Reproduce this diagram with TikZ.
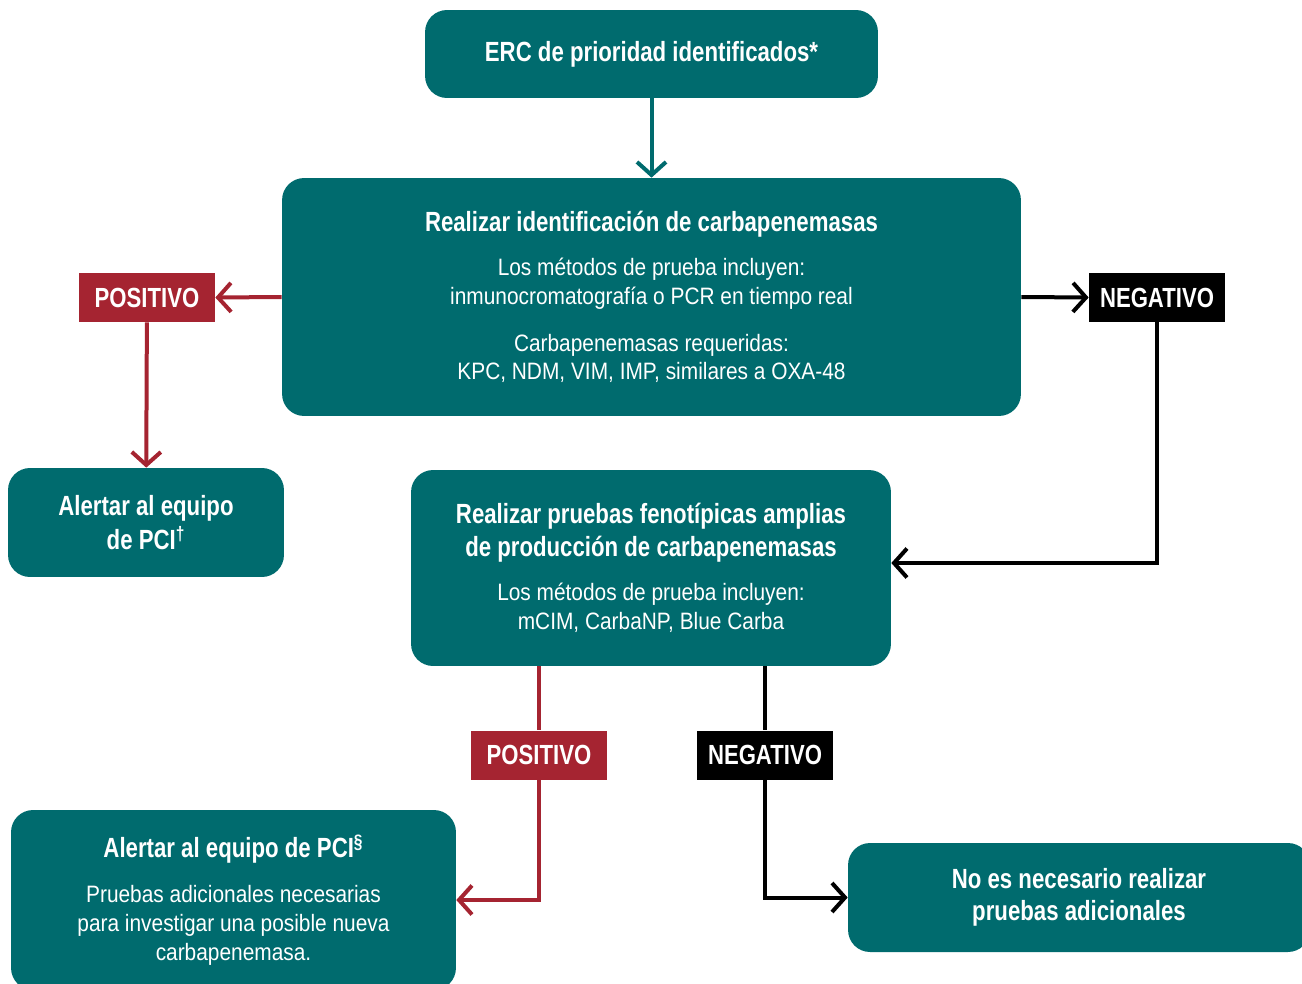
\documentclass[tikz,border=0pt]{standalone}
\usepackage{fontspec}
\setmainfont{Liberation Sans}[FakeStretch=0.88, BoldFeatures={FakeStretch=0.8}]
\usetikzlibrary{arrows.meta, positioning}

\definecolor{pteal}{HTML}{006B6E}
\definecolor{pred}{HTML}{A52431}
\newcommand{\hd}{\fontsize{15.8}{18}\selectfont\bfseries}

\begin{document}
\begin{tikzpicture}[
    x=0.02cm, y=-0.02cm,
    >={Straight Barb[length=0.26cm, width=0.58cm]},
    box/.style={fill=pteal, rounded corners=0.44cm, text=white,
                align=center, inner sep=0pt,
                font=\fontsize{13.5}{16.4}\selectfont},
    tag/.style={minimum width=2.72cm, minimum height=0.98cm, inner sep=0pt,
                text=white, font=\fontsize{15.75}{18}\selectfont\bfseries},
    flow/.style={line width=0.08cm}
  ]
  \useasboundingbox (0,0) rectangle (1302,984);

  % Boxes
  \node[box, minimum width=9.06cm, minimum height=1.76cm] (erc) at (651.5,54)
    {\hd ERC de prioridad identificados*};
  \node[box, minimum width=14.78cm, minimum height=4.76cm] (ident) at (651.5,297)
    {{\hd Realizar identificación de carbapenemasas}\\[9pt]
     Los métodos de prueba incluyen:\\
     inmunocromatografía o PCR en tiempo real\\[10pt]
     Carbapenemasas requeridas:\\
     KPC, NDM, VIM, IMP, similares a OXA-48};
  \node[box, minimum width=5.52cm, minimum height=2.18cm] (alert1) at (146,522.5)
    {\hd Alertar al equipo\\[2pt]
     \hd de PCI\textsuperscript{†}};
  \node[box, minimum width=9.6cm, minimum height=3.92cm] (pheno) at (651,568)
    {{\hd Realizar pruebas fenotípicas amplias}\\[2pt]
     {\hd de producción de carbapenemasas}\\[9pt]
     Los métodos de prueba incluyen:\\
     mCIM, CarbaNP, Blue Carba};
  \node[box, minimum width=8.9cm, minimum height=3.6cm] (alert2) at (233.5,900)
    {{\hd Alertar al equipo de PCI\textsuperscript{§}}\\[9pt]
     Pruebas adicionales necesarias\\
     para investigar una posible nueva\\
     carbapenemasa.};
  \node[box, minimum width=9.24cm, minimum height=2.18cm] (noes) at (1079,897.5)
    {\hd No es necesario realizar\\[2pt]
     \hd pruebas adicionales};

  % Result tags
  \node[tag, fill=pred] (pos1) at (147,297.5) {POSITIVO};
  \node[tag, fill=black] (neg1) at (1157,297.5) {NEGATIVO};
  \node[tag, fill=pred] (pos2) at (539,755) {POSITIVO};
  \node[tag, fill=black] (neg2) at (765,755) {NEGATIVO};

  % Connectors
  \draw[flow, pteal, ->] (erc) -- (ident);
  \draw[flow, pred, ->] (ident.west) -- (pos1.east);
  \draw[flow, pred, ->] (pos1) -- (alert1);
  \draw[flow, ->] (ident.east) -- (neg1.west);
  \draw[flow, ->] (neg1) |- ([yshift=0.1cm]pheno.east);
  \draw[flow, pred] (pheno.south -| pos2) -- (pos2);
  \draw[flow, pred, ->] (pos2) |- (alert2.east);
  \draw[flow] (pheno.south -| neg2) -- (neg2);
  \draw[flow, ->] (neg2) |- (noes.west);
\end{tikzpicture}
\end{document}
